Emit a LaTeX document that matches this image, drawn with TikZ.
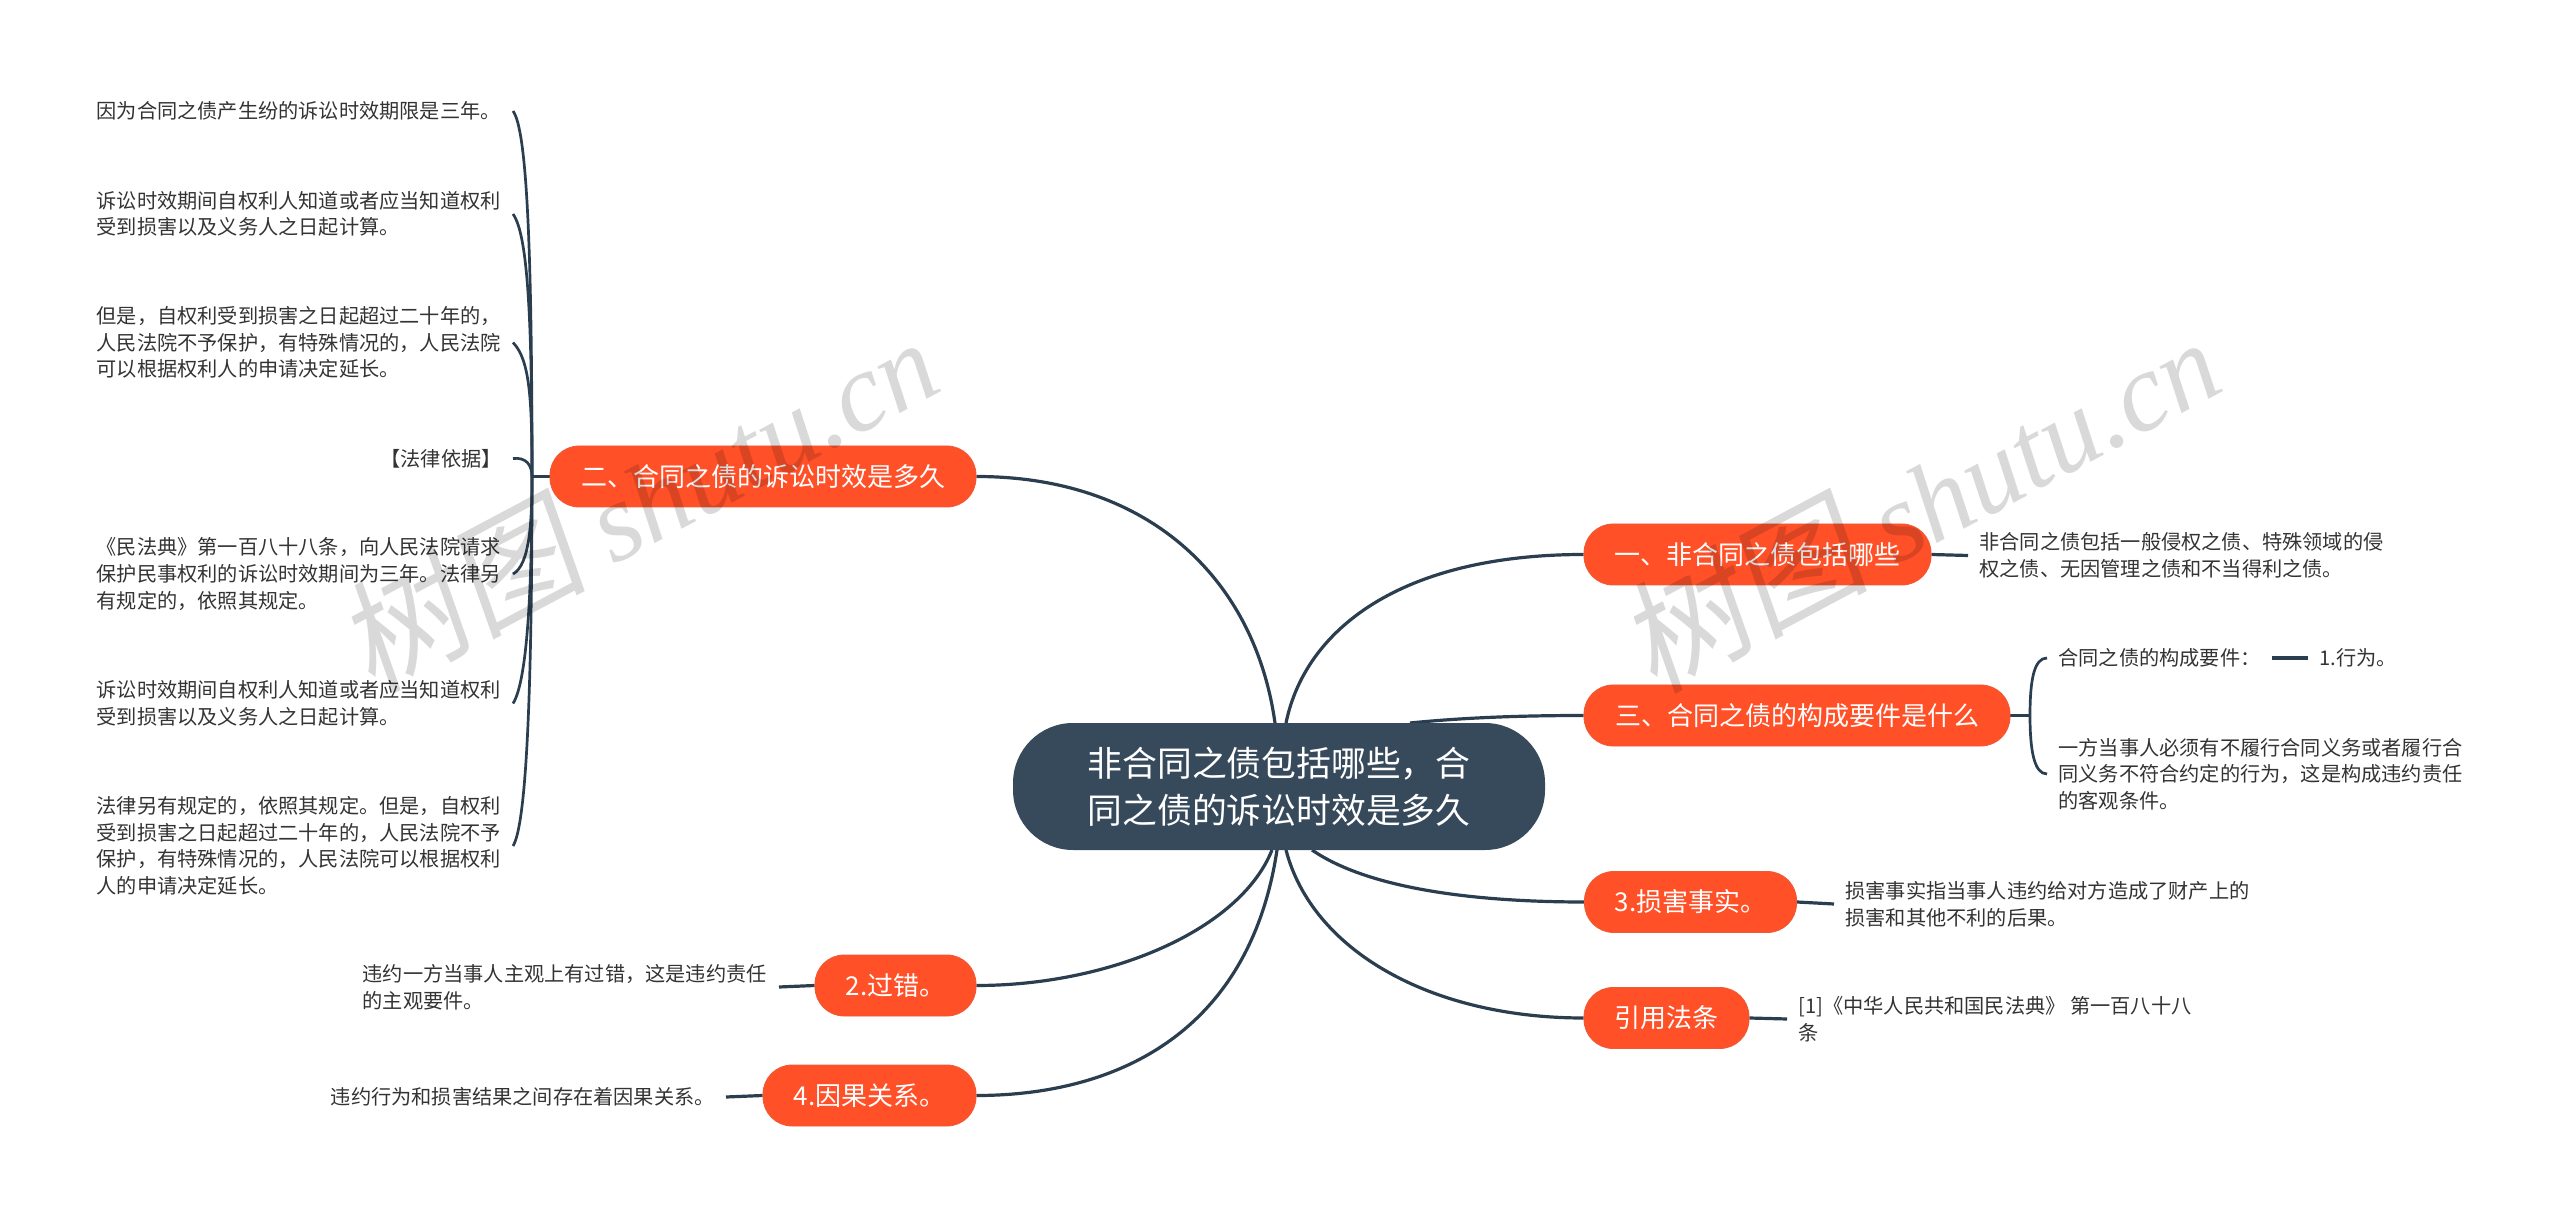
\documentclass[tikz,border=0pt]{standalone}
\usepackage{fontspec}
\usepackage{xcolor}
\setmainfont{Noto Sans CJK SC}
\newfontfamily\stampcjk[FakeSlant=.15]{Noto Sans CJK SC}
\newfontfamily\stamplatin{Liberation Serif}
\usetikzlibrary{backgrounds}
\definecolor{rootfill}{HTML}{374A5B}
\definecolor{topicfill}{HTML}{FF5028}
\definecolor{topicedge}{HTML}{EE5A36}
\definecolor{linkcol}{HTML}{2A3E50}
\definecolor{leafcol}{HTML}{333333}
\tikzset{
  root/.style={fill=rootfill, text=white, rounded corners=30pt, inner sep=0pt, minimum height=63.5pt, minimum width=266pt, align=center, font=\fontsize{17.4pt}{23.5pt}\selectfont},
  topic/.style={fill=topicfill, draw=topicedge, line width=.4pt, text=white, rounded corners=14.5pt, inner sep=0pt, minimum height=30.5pt, align=center, font=\fontsize{13pt}{16pt}\selectfont},
  leaf/.style={text=leafcol, inner xsep=5.5pt, inner ysep=0pt, align=left, font=\fontsize{10.1pt}{13.3pt}\selectfont},
  leafL/.style={leaf, anchor=east, text width=202.5pt},
  leafR/.style={leaf, anchor=west},
  link/.style={draw=linkcol, line width=1.6pt},
  twig/.style={draw=linkcol, line width=1.35pt},
  stamp/.style={text=black, text opacity=.15, rotate=28, font=\fontsize{56pt}{56pt}\selectfont}
}
\begin{document}
\begin{tikzpicture}[x=.5pt,y=-.5pt]
\useasboundingbox (0,0) rectangle (2560,1213);
\node[root] (center) at (1279,786.5) {非合同之债包括哪些，合\\同之债的诉讼时效是多久};

\node[topic, minimum width=213pt] (two) at (763,476.5) {二、合同之债的诉讼时效是多久};
\node[topic, minimum width=80.5pt] (fault) at (895.5,985.5) {2.过错。};
\node[topic, minimum width=106.5pt] (cause) at (869.5,1095.5) {4.因果关系。};
\node[topic, minimum width=173.5pt] (one) at (1757.5,554.5) {一、非合同之债包括哪些};
\node[topic, minimum width=213pt] (three) at (1797,715.5) {三、合同之债的构成要件是什么};
\node[topic, minimum width=106pt] (harm) at (1690.5,902) {3.损害事实。};
\node[topic, minimum width=82.5pt] (cite) at (1666.5,1018) {引用法条};

\node[leafL] (twoA) at (513,111) {因为合同之债产生纷的诉讼时效期限是三年。};
\node[leafL] (twoB) at (513,214) {诉讼时效期间自权利人知道或者应当知道权利\\受到损害以及义务人之日起计算。};
\node[leafL] (twoC) at (513,342.5) {但是，自权利受到损害之日起超过二十年的，\\人民法院不予保护，有特殊情况的，人民法院\\可以根据权利人的申请决定延长。};
\node[leaf, anchor=east] (twoD) at (513,458.5) {【法律依据】};
\node[leafL] (twoE) at (513,574) {《民法典》第一百八十八条，向人民法院请求\\保护民事权利的诉讼时效期间为三年。法律另\\有规定的，依照其规定。};
\node[leafL] (twoF) at (513,703.5) {诉讼时效期间自权利人知道或者应当知道权利\\受到损害以及义务人之日起计算。};
\node[leafL] (twoG) at (513,846) {法律另有规定的，依照其规定。但是，自权利\\受到损害之日起超过二十年的，人民法院不予\\保护，有特殊情况的，人民法院可以根据权利\\人的申请决定延长。};
\node[leafL] (faultA) at (779,987) {违约一方当事人主观上有过错，这是违约责任\\的主观要件。};
\node[leaf, anchor=east] (causeA) at (726,1097) {违约行为和损害结果之间存在着因果关系。};
\node[leafR] (oneA) at (1968,555.5) {非合同之债包括一般侵权之债、特殊领域的侵\\权之债、无因管理之债和不当得利之债。};
\node[leafR] (threeA) at (2047,658) {合同之债的构成要件：};
\node[leafR] (threeB) at (2308,658) {1.行为。};
\node[leafR] (threeC) at (2047,774) {一方当事人必须有不履行合同义务或者履行合\\同义务不符合约定的行为，这是构成违约责任\\的客观条件。};
\node[leafR] (harmA) at (1834,904) {损害事实指当事人违约给对方造成了财产上的\\损害和其他不利的后果。};
\node[leafR] (citeA) at (1787,1019) {[1]《中华人民共和国民法典》 第一百八十八\\条};

\coordinate (hubtwo) at (532,476.5);
\coordinate (hubthree) at (2030,715.5);
\coordinate (outtwo) at (1275,723);
\coordinate (outone) at (1286,723);
\coordinate (outthree) at (1410,723);
\coordinate (outharm) at (1312,850);
\coordinate (outcite) at (1286,850);
\coordinate (outfault) at (1272,850);
\coordinate (outcause) at (1277,850);

\begin{scope}[on background layer]
\draw[link] (outtwo) .. controls (1255,580) and (1150,476.5) .. (two.east);
\draw[link] (outone) .. controls (1305,630) and (1400,554.5) .. (one.west);
\draw[link] (outthree) .. controls (1470,717) and (1530,715.5) .. (three.west);
\draw[link] (outharm) .. controls (1370,890) and (1480,902) .. (harm.west);
\draw[link] (outcite) .. controls (1312,950) and (1430,1018) .. (cite.west);
\draw[link] (outfault) .. controls (1240,930) and (1110,985.5) .. (fault.east);
\draw[link] (outcause) .. controls (1250,1030) and (1120,1095.5) .. (cause.east);

\draw[link] (two.west) -- (hubtwo);
\draw[link] (three.east) -- (hubthree);
\draw[link] (fault.west) -- (faultA.east);
\draw[link] (cause.west) -- (causeA.east);
\draw[link] (one.east) -- (oneA.west);
\draw[link] (harm.east) -- (harmA.west);
\draw[link] (cite.east) -- (citeA.west);
\draw[link] (threeA.east) -- (threeB.west);

\draw[twig] (hubtwo) .. controls (532,250) and (527,130) .. (twoA.east);
\draw[twig] (hubtwo) .. controls (532,320) and (528,235) .. (twoB.east);
\draw[twig] (hubtwo) .. controls (532,400) and (530,360) .. (twoC.east);
\draw[twig] (hubtwo) .. controls (532,465) and (526,457) .. (twoD.east);
\draw[twig] (hubtwo) .. controls (532,520) and (530,565) .. (twoE.east);
\draw[twig] (hubtwo) .. controls (532,580) and (528,680) .. (twoF.east);
\draw[twig] (hubtwo) .. controls (532,700) and (526,825) .. (twoG.east);
\draw[twig] (hubthree) .. controls (2030,680) and (2034,658) .. (threeA.west);
\draw[twig] (hubthree) .. controls (2030,750) and (2034,774) .. (threeC.west);
\end{scope}

\node[stamp] (stampleft) at (637,500) {{\stampcjk\fontsize{62pt}{62pt}\selectfont 树图} {\stamplatin\itshape shutu.cn}};
\node[stamp] (stampright) at (1919,500) {{\stampcjk\fontsize{62pt}{62pt}\selectfont 树图} {\stamplatin\itshape shutu.cn}};
\end{tikzpicture}
\end{document}
